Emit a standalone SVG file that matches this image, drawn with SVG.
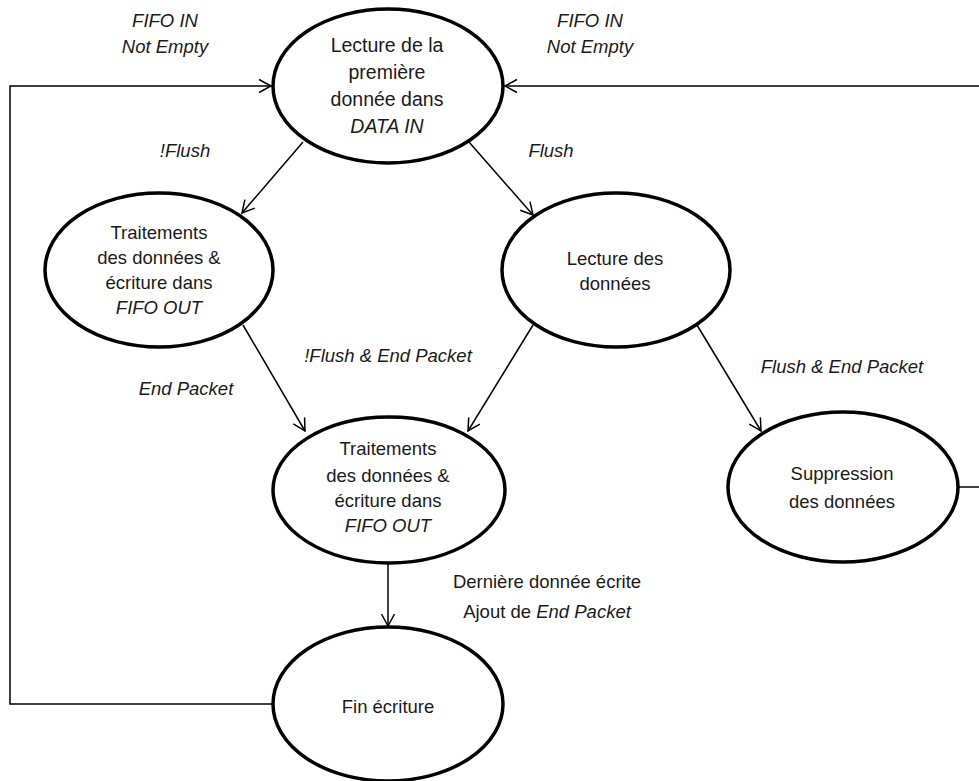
<svg xmlns="http://www.w3.org/2000/svg" width="979" height="781" viewBox="0 0 979 781">
<defs>
<style>
.n{fill:#fff;stroke:#000;stroke-width:3.5}
.c{fill:none;stroke:#000;stroke-width:1.5}
text{font-family:"Liberation Sans",Arial,sans-serif;font-size:18.5px;fill:#1a1a1a;text-anchor:middle}
.i{font-style:italic}
.t{font-size:19.5px}
</style>
<marker id="a" markerWidth="16" markerHeight="16" refX="13" refY="8" orient="auto" markerUnits="userSpaceOnUse">
<path d="M1,1.5 L13,8 L1,14.5" fill="none" stroke="#000" stroke-width="1.5"/>
</marker>
</defs>
<rect width="979" height="781" fill="#fff"/>
<g id="connectors">
<polyline class="c" points="273,704 10,704 10,86 271,86" marker-end="url(#a)"/>
<polyline class="c" points="958,487 979,487"/>
<polyline class="c" points="979,86 505,86" marker-end="url(#a)"/>
<line class="c" x1="303" y1="142" x2="242" y2="213" marker-end="url(#a)"/>
<line class="c" x1="469" y1="142" x2="533" y2="215" marker-end="url(#a)"/>
<line class="c" x1="243" y1="325" x2="305" y2="431" marker-end="url(#a)"/>
<line class="c" x1="533" y1="325" x2="468" y2="431" marker-end="url(#a)"/>
<line class="c" x1="697" y1="325" x2="761" y2="431" marker-end="url(#a)"/>
<line class="c" x1="388" y1="562" x2="388" y2="626" marker-end="url(#a)"/>
<text class="i" x="165" y="27">FIFO IN</text>
<text class="i" x="165" y="53">Not Empty</text>
<text class="i" x="590" y="27">FIFO IN</text>
<text class="i" x="590" y="53">Not Empty</text>
<text class="i" x="185" y="157">!Flush</text>
<text class="i" x="551" y="157">Flush</text>
<text class="i" x="388" y="362">!Flush &amp; End Packet</text>
<text class="i" x="186" y="395">End Packet</text>
<text class="i" x="842" y="373">Flush &amp; End Packet</text>
<text x="547" y="588">Dernière donnée écrite</text>
<text x="547" y="618">Ajout de <tspan class="i">End Packet</tspan></text>
</g>
<g id="n1">
<ellipse class="n" cx="388" cy="86" rx="115" ry="77"/>
<text class="t" x="387" y="52">Lecture de la</text>
<text class="t" x="387" y="79">première</text>
<text class="t" x="387" y="106">donnée dans</text>
<text class="t i" x="387" y="133">DATA IN</text>
</g>
<g id="n2">
<ellipse class="n" cx="159" cy="270" rx="114" ry="77"/>
<text x="159" y="239">Traitements</text>
<text x="159" y="264">des données &amp;</text>
<text x="159" y="289">écriture dans</text>
<text class="i" x="159" y="314">FIFO OUT</text>
</g>
<g id="n3">
<ellipse class="n" cx="616" cy="270" rx="114" ry="77"/>
<text x="615" y="265">Lecture des</text>
<text x="615" y="290">données</text>
</g>
<g id="n4">
<ellipse class="n" cx="389" cy="490" rx="116" ry="73"/>
<text x="388" y="455">Traitements</text>
<text x="388" y="482">des données &amp;</text>
<text x="388" y="507">écriture dans</text>
<text class="i" x="388" y="532">FIFO OUT</text>
</g>
<g id="n5">
<ellipse class="n" cx="843" cy="487" rx="115" ry="75"/>
<text x="842" y="480">Suppression</text>
<text x="842" y="508">des données</text>
</g>
<g id="n6">
<ellipse class="n" cx="388" cy="704" rx="115" ry="77"/>
<text x="388" y="713">Fin écriture</text>
</g>
</svg>
